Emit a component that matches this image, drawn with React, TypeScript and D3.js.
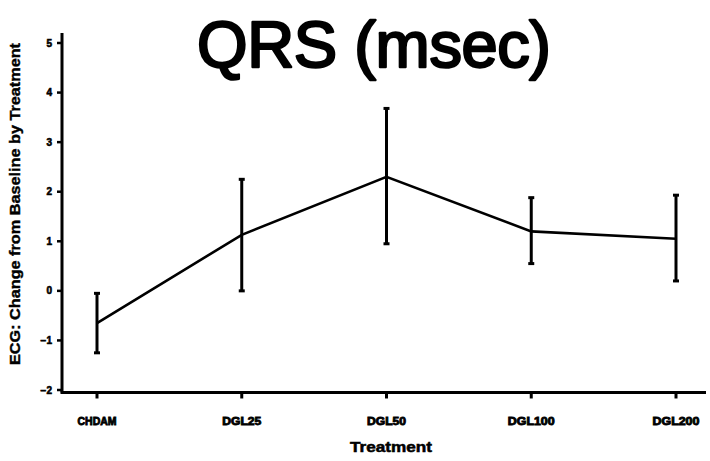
import React from "react";
import * as d3 from "d3";

const treatments = ["CHDAM", "DGL25", "DGL50", "DGL100", "DGL200"];
const means = [-0.65, 1.13, 2.3, 1.2, 1.05];
const lower = [-1.25, 0.0, 0.95, 0.55, 0.2];
const upper = [-0.05, 2.25, 3.68, 1.88, 1.93];
const yTicks = [-2, -1, 0, 1, 2, 3, 4, 5];

const W = 710, H = 461;
const FONT = "'Liberation Sans', Arial, sans-serif";

export default function App() {
  const x = d3.scalePoint<string>().domain(treatments).range([97, 676]);
  const y = d3.scaleLinear().domain([-2, 5]).range([390, 43]);
  const axisX = 62;
  const axisY = y(-2.05);

  const rows = treatments.map((t, i) => ({ t, m: means[i], lo: lower[i], hi: upper[i] }));
  const line = d3.line<typeof rows[0]>()
    .x(d => x(d.t)!)
    .y(d => y(d.m));

  return (
    <svg width={W} height={H} style={{ position: "absolute", left: 0, top: 0, background: "#fff" }}>
      {/* title: regular weight thickened with a round stroke, like the scanned plotter font */}
      <text x={374} y={67} textAnchor="middle" fontFamily={FONT} fontSize={65}
        stroke="#000" strokeWidth={2.4} strokeLinejoin="round"
        textLength={354} lengthAdjust="spacing">QRS (msec)</text>

      {/* y axis */}
      <line x1={axisX} x2={axisX} y1={y(5.2)} y2={axisY} stroke="#000" strokeWidth={3} />
      {yTicks.map(v => (
        <g key={v}>
          <line x1={axisX - 5} x2={axisX} y1={y(v)} y2={y(v)} stroke="#000" strokeWidth={2.5} />
          <text x={axisX - 10} y={y(v)} dy="0.35em" textAnchor="end" fontFamily={FONT}
            fontWeight="900" fontSize={10} stroke="#000" strokeWidth={0.6}>{v < 0 ? `\u2212${-v}` : v}</text>
        </g>
      ))}
      <text transform={`translate(20,${204}) rotate(-90)`} textAnchor="middle" fontFamily={FONT}
        fontWeight="bold" fontSize={14} stroke="#000" strokeWidth={0.4}
        textLength={322} lengthAdjust="spacingAndGlyphs">
        ECG: Change from Baseline by Treatment
      </text>

      {/* x axis */}
      <line x1={axisX - 1.5} x2={706} y1={axisY} y2={axisY} stroke="#000" strokeWidth={3} />
      {treatments.map(t => (
        <g key={t}>
          <line x1={x(t)} x2={x(t)} y1={axisY} y2={axisY + 6} stroke="#000" strokeWidth={3} />
          <text x={x(t)} y={425} textAnchor="middle" fontFamily={FONT} fontWeight="900"
            fontSize={10} stroke="#000" strokeWidth={0.8}
            textLength={t.length * 7.8} lengthAdjust="spacingAndGlyphs">{t}</text>
        </g>
      ))}
      <text x={391} y={452} textAnchor="middle" fontFamily={FONT} fontWeight="bold" fontSize={14}
        stroke="#000" strokeWidth={0.5} textLength={82} lengthAdjust="spacingAndGlyphs">Treatment</text>

      {/* error bars */}
      {rows.map(d => (
        <g key={d.t} stroke="#000">
          <line x1={x(d.t)} x2={x(d.t)} y1={y(d.lo)} y2={y(d.hi)} strokeWidth={3} />
          <line x1={x(d.t)! - 3} x2={x(d.t)! + 3} y1={y(d.lo)} y2={y(d.lo)} strokeWidth={3} />
          <line x1={x(d.t)! - 3} x2={x(d.t)! + 3} y1={y(d.hi)} y2={y(d.hi)} strokeWidth={3} />
        </g>
      ))}
      <path d={line(rows)!} fill="none" stroke="#000" strokeWidth={2.6} />
    </svg>
  );
}
